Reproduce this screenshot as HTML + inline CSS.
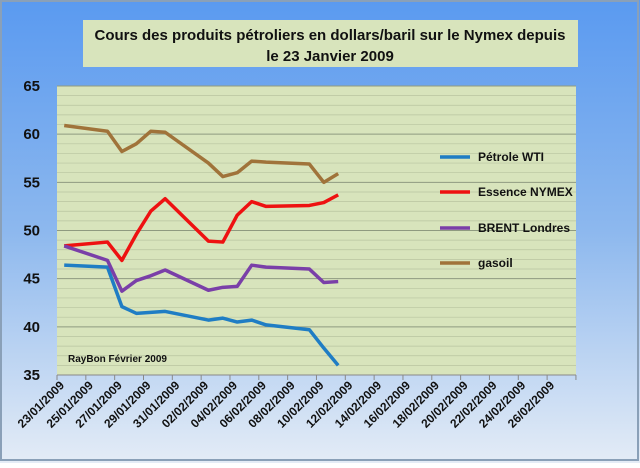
<!DOCTYPE html>
<html><head><meta charset="utf-8"><style>
body{margin:0;width:640px;height:463px;overflow:hidden}
</style></head><body>
<svg width="640" height="463" xmlns="http://www.w3.org/2000/svg" font-family="Liberation Sans, sans-serif">
<defs>
<linearGradient id="bg" x1="0" y1="0" x2="0" y2="1">
<stop offset="0" stop-color="#5a9af0"/><stop offset="0.5" stop-color="#8db8ee"/><stop offset="1" stop-color="#e4ecf6"/>
</linearGradient>
</defs>
<rect x="0" y="0" width="640" height="463" fill="url(#bg)"/>
<rect x="1" y="1" width="637" height="459" fill="none" stroke="#8aa0b8" stroke-width="2"/>
<rect x="83" y="20" width="495" height="47" fill="#d8e4bc"/>
<text x="330" y="40" font-size="15" font-weight="bold" text-anchor="middle" fill="#111">Cours des produits pétroliers en dollars/baril sur le Nymex depuis</text>
<text x="330" y="61" font-size="15" font-weight="bold" text-anchor="middle" fill="#111">le 23 Janvier 2009</text>
<rect x="57" y="86" width="519" height="289" fill="#d8e4bc"/>
<g id="grid"></g>
<g font-size="15" font-weight="bold" fill="#111" text-anchor="end" id="ylab"></g>
<g id="xax"></g>
<text x="68" y="362" font-size="10" font-weight="bold" fill="#111">RayBon Février 2009</text>
<g id="series" fill="none" stroke-width="3.5" stroke-linejoin="round"></g>
<g font-size="12" font-weight="bold" fill="#111">
<line x1="440" y1="157" x2="470" y2="157" stroke="#1f7dc4" stroke-width="3.5"/><text x="478" y="161">Pétrole WTI</text>
<line x1="440" y1="192" x2="470" y2="192" stroke="#ee1111" stroke-width="3.5"/><text x="478" y="196">Essence NYMEX</text>
<line x1="440" y1="228" x2="470" y2="228" stroke="#7a3fa8" stroke-width="3.5"/><text x="478" y="232">BRENT Londres</text>
<line x1="440" y1="263" x2="470" y2="263" stroke="#a0733a" stroke-width="3.5"/><text x="478" y="267">gasoil</text>
</g>
</svg>
<script>
const ns="http://www.w3.org/2000/svg";
const Y=v=>375-(v-35)*9.633;
const X=d=>57+14.42*(d+0.5);
const g=document.getElementById('grid');
for(let v=35;v<=65;v++){const l=document.createElementNS(ns,'line');l.setAttribute('x1',57);l.setAttribute('x2',576);l.setAttribute('y1',Y(v));l.setAttribute('y2',Y(v));l.setAttribute('stroke',v%5?'#b9c4a0':'#8f9a80');l.setAttribute('stroke-width',v%5?0.7:1);g.appendChild(l);}
const yl=document.getElementById('ylab');
for(let v=35;v<=65;v+=5){const t=document.createElementNS(ns,'text');t.setAttribute('x',40);t.setAttribute('y',Y(v)+5);t.textContent=v;yl.appendChild(t);}
const xa=document.getElementById('xax');
const a=document.createElementNS(ns,'line');a.setAttribute('x1',57);a.setAttribute('x2',576);a.setAttribute('y1',375);a.setAttribute('y2',375);a.setAttribute('stroke','#888');xa.appendChild(a);
const labs=["23/01/2009","25/01/2009","27/01/2009","29/01/2009","31/01/2009","02/02/2009","04/02/2009","06/02/2009","08/02/2009","10/02/2009","12/02/2009","14/02/2009","16/02/2009","18/02/2009","20/02/2009","22/02/2009","24/02/2009","26/02/2009"];
for(let i=0;i<=18;i++){const x=57+i*28.83;const l=document.createElementNS(ns,'line');l.setAttribute('x1',x);l.setAttribute('x2',x);l.setAttribute('y1',375);l.setAttribute('y2',380);l.setAttribute('stroke','#888');xa.appendChild(l);
if(i<18){const t=document.createElementNS(ns,'text');t.setAttribute('transform',`translate(${x+8},386) rotate(-45)`);t.setAttribute('text-anchor','end');t.setAttribute('font-size','12');t.setAttribute('font-weight','bold');t.setAttribute('fill','#111');t.textContent=labs[i];xa.appendChild(t);}}
const days=[0,3,4,5,6,7,10,11,12,13,14,17,18,19];
const S=[["#1f7dc4",[46.4,46.2,42.1,41.4,41.5,41.6,40.7,40.9,40.5,40.7,40.2,39.7,37.8,36.0]],
["#ee1111",[48.4,48.8,46.9,49.6,52,53.3,48.9,48.8,51.6,53,52.5,52.6,52.9,53.7]],
["#7a3fa8",[48.4,46.9,43.7,44.8,45.3,45.9,43.8,44.1,44.2,46.4,46.2,46.0,44.6,44.7]],
["#a0733a",[60.9,60.3,58.2,59,60.3,60.2,57,55.6,56,57.2,57.1,56.9,55,55.9]]];
const sg=document.getElementById('series');
S.forEach(([c,v])=>{const p=document.createElementNS(ns,'polyline');p.setAttribute('points',v.map((y,i)=>X(days[i])+','+Y(y)).join(' '));p.setAttribute('stroke',c);sg.appendChild(p);});
</script>
</body></html>
